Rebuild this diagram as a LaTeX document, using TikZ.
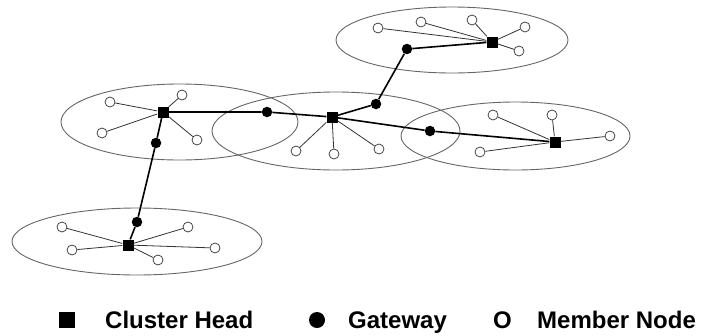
\documentclass[tikz,border=0pt]{standalone}
\usepackage{fontspec}
\setmainfont{Liberation Sans}
\begin{document}
\begin{tikzpicture}[x=1pt,y=-1pt,
  cluster/.style={draw=black!60,line width=0.9pt},
  member/.style={circle,draw=black!75,fill=white,line width=0.75pt,minimum size=10pt,inner sep=0pt},
  head/.style={rectangle,fill=black,minimum size=11pt,inner sep=0pt},
  gw/.style={circle,fill=black,minimum size=10.5pt,inner sep=0pt},
  medge/.style={draw=black!80,line width=0.8pt},
  bb/.style={draw=black,line width=1.6pt},
  legtext/.style={font=\bfseries\fontsize{24}{28}\selectfont,anchor=base west,inner sep=0pt}]
\useasboundingbox (0,0) rectangle (703,335);
% clusters
\draw[cluster] (452,40) ellipse [x radius=116,y radius=33];
\draw[cluster] (179.5,122) ellipse [x radius=118.5,y radius=38];
\draw[cluster] (336,131) ellipse [x radius=124,y radius=39];
\draw[cluster] (515.5,136) ellipse [x radius=114.5,y radius=34];
\draw[cluster] (137,241.5) ellipse [x radius=125,y radius=33.5];
% heads
\node[head] (h1) at (492,42) {};
\node[head] (h2) at (163,112) {};
\node[head] (h3) at (332,117) {};
\node[head] (h4) at (555,142) {};
\node[head] (h5) at (128,245) {};
% gateways
\node[gw] (g1) at (407,49) {};
\node[gw] (g2) at (156,143) {};
\node[gw] (g3) at (267,112) {};
\node[gw] (g4) at (376,104) {};
\node[gw] (g5) at (430,131) {};
\node[gw] (g6) at (137,222) {};
% members
\node[member] (m11) at (378,28) {};
\node[member] (m12) at (421,22) {};
\node[member] (m13) at (472,20) {};
\node[member] (m14) at (525,27) {};
\node[member] (m15) at (519,51) {};
\node[member] (m21) at (110,102) {};
\node[member] (m22) at (182,95) {};
\node[member] (m23) at (102,133) {};
\node[member] (m24) at (197,140) {};
\node[member] (m31) at (296,151) {};
\node[member] (m32) at (334,154) {};
\node[member] (m33) at (379,149) {};
\node[member] (m41) at (493,115) {};
\node[member] (m42) at (552,115) {};
\node[member] (m43) at (610,136) {};
\node[member] (m44) at (480,152) {};
\node[member] (m51) at (62,227) {};
\node[member] (m52) at (188,227) {};
\node[member] (m53) at (72,250) {};
\node[member] (m54) at (215,248) {};
\node[member] (m55) at (158,260) {};
% member edges
\foreach \m in {m11,m12,m13,m14,m15} \draw[medge] (h1) -- (\m);
\foreach \m in {m21,m22,m23,m24} \draw[medge] (h2) -- (\m);
\foreach \m in {m31,m32,m33} \draw[medge] (h3) -- (\m);
\foreach \m in {m41,m42,m43,m44} \draw[medge] (h4) -- (\m);
\foreach \m in {m51,m52,m53,m54,m55} \draw[medge] (h5) -- (\m);
% backbone
\draw[bb] (h5) -- (g6) -- (g2) -- (h2) -- (g3) -- (h3) -- (g4) -- (g1) -- (h1);
\draw[bb] (h3) -- (g5) -- (h4);
% legend
\node[rectangle,fill=black,minimum size=16pt,inner sep=0pt] (lh) at (67,320) {};
\node[legtext] (lht) at (105,328) {Cluster Head};
\node[circle,fill=black,minimum size=16pt,inner sep=0pt] (lg) at (317,320) {};
\node[legtext] (lgt) at (348,328) {Gateway};
\node[legtext] (lm) at (493,328) {O};
\node[legtext] (lmt) at (537,328) {Member Node};
\end{tikzpicture}
\end{document}
